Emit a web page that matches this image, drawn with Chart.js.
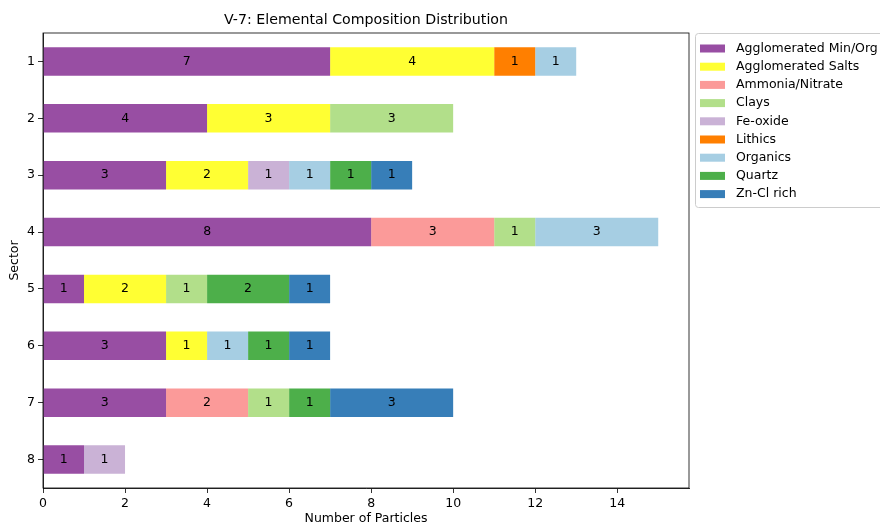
<!DOCTYPE html>
<html>
<head>
<meta charset="utf-8">
<script src="https://cdn.jsdelivr.net/npm/chart.js@4"></script>
<style>
html,body{margin:0;padding:0;background:#fff;}
#wrap{width:880px;height:527px;position:relative;}
</style>
</head>
<body>
<div id="wrap"><canvas id="c" width="880" height="527"></canvas></div>
<script>
const chartTitle = "V-7: Elemental Composition Distribution";
const xTitle = "Number of Particles";
const yTitle = "Sector";
const sectors = ["1","2","3","4","5","6","7","8"];
const xTicks = [0,2,4,6,8,10,12,14];

const seriesNames = ["Agglomerated Min/Org","Agglomerated Salts","Ammonia/Nitrate","Clays","Fe-oxide","Lithics","Organics","Quartz","Zn-Cl rich"];
const seriesColors = ["#984ea3","#ffff33","#fb9a99","#b2df8a","#cab2d6","#ff7f00","#a6cee3","#4daf4a","#377eb8"];

const aggMinOrg = [7,4,3,8,1,3,3,1];
const aggSalts  = [4,3,2,0,2,1,0,0];
const ammonia   = [0,0,0,3,0,0,2,0];
const clays     = [0,3,0,1,1,0,1,0];
const feOxide   = [0,0,1,0,0,0,0,1];
const lithics   = [1,0,0,0,0,0,0,0];
const organics  = [1,0,1,3,0,1,0,0];
const quartz    = [0,0,1,0,2,1,1,0];
const znCl      = [0,0,1,0,1,1,3,0];

const seriesValues = [aggMinOrg, aggSalts, ammonia, clays, feOxide, lithics, organics, quartz, znCl];

const FONT = "'DejaVu Sans', sans-serif";
const FS = 12.5;

const datasets = seriesNames.map((n,i)=>({
  label:n,
  data: seriesValues[i],
  backgroundColor: seriesColors[i],
  borderWidth:0,
  barPercentage:0.5,
  categoryPercentage:1.0
}));

const decor = {
  id:'decor',
  afterDatasetsDraw(chart){
    const ctx = chart.ctx;
    ctx.save();
    ctx.fillStyle = '#000';
    ctx.font = FS + "px " + FONT;
    ctx.textAlign = 'center';
    ctx.textBaseline = 'middle';
    chart.data.datasets.forEach((ds, di)=>{
      const meta = chart.getDatasetMeta(di);
      meta.data.forEach((el, idx)=>{
        const v = ds.data[idx];
        if (!v) return;
        const cx = (el.x + el.base)/2;
        ctx.fillText(String(v), cx, el.y);
      });
    });
    ctx.restore();
  },
  afterDraw(chart){
    const ctx = chart.ctx;
    const ca = chart.chartArea;
    ctx.save();
    ctx.strokeStyle = '#000';
    ctx.lineWidth = 0.8;
    ctx.strokeRect(ca.left, ca.top, ca.right-ca.left, ca.bottom-ca.top);
    ctx.fillStyle = '#000';
    ctx.font = "14.2px " + FONT;
    ctx.textAlign = 'center';
    ctx.textBaseline = 'middle';
    ctx.fillText(chartTitle, (ca.left+ca.right)/2, 20);
    ctx.font = FS + "px " + FONT;
    ctx.fillText(xTitle, (ca.left+ca.right)/2, 519);
    ctx.save();
    ctx.translate(15, (ca.top+ca.bottom)/2);
    ctx.rotate(-Math.PI/2);
    ctx.fillText(yTitle, 0, 0);
    ctx.restore();
    const lx = 695, ly = 33, lw = 190, lh = 174;
    ctx.strokeStyle = '#cccccc';
    ctx.lineWidth = 1;
    ctx.beginPath();
    if (ctx.roundRect) ctx.roundRect(lx+0.5, ly+0.5, lw, lh, 3); else ctx.rect(lx+0.5, ly+0.5, lw, lh);
    ctx.fillStyle = 'rgba(255,255,255,0.8)';
    ctx.fill();
    ctx.stroke();
    ctx.textAlign = 'left';
    ctx.textBaseline = 'middle';
    ctx.font = FS + "px " + FONT;
    seriesNames.forEach((n,i)=>{
      const y = 48.5 + i*18.2;
      ctx.fillStyle = seriesColors[i];
      ctx.fillRect(700, y-4, 25, 8);
      ctx.fillStyle = '#000';
      ctx.fillText(n, 736, y);
    });
    ctx.restore();
  }
};

new Chart(document.getElementById('c'), {
  type:'bar',
  data:{ labels: sectors, datasets },
  options:{
    indexAxis:'y',
    responsive:false,
    animation:false,
    devicePixelRatio:1,
    layout:{ padding:{ left:0, right:191, top:33, bottom:0 } },
    plugins:{ legend:{display:false}, title:{display:false}, tooltip:{enabled:false} },
    scales:{
      x:{
        stacked:true,
        min:0, max:15.75,
        afterBuildTicks(s){ s.ticks = xTicks.map(v=>({value:v})); },
        afterFit(s){ s.height = 39; },
        grid:{ drawOnChartArea:false, drawTicks:true, tickLength:5, tickColor:'#000', tickWidth:0.8 },
        border:{ display:true, color:'#000', width:0.8 },
        ticks:{ color:'#000', font:{family:FONT, size:FS}, padding:3, maxRotation:0, autoSkip:false }
      },
      y:{
        stacked:true,
        afterFit(s){ s.width = 43; },
        grid:{ drawOnChartArea:false, drawTicks:true, tickLength:5, tickColor:'#000', tickWidth:0.8, offset:false },
        border:{ display:true, color:'#000', width:0.8 },
        ticks:{ color:'#000', font:{family:FONT, size:FS}, padding:3 }
      }
    }
  },
  plugins:[decor]
});
</script>
</body>
</html>
